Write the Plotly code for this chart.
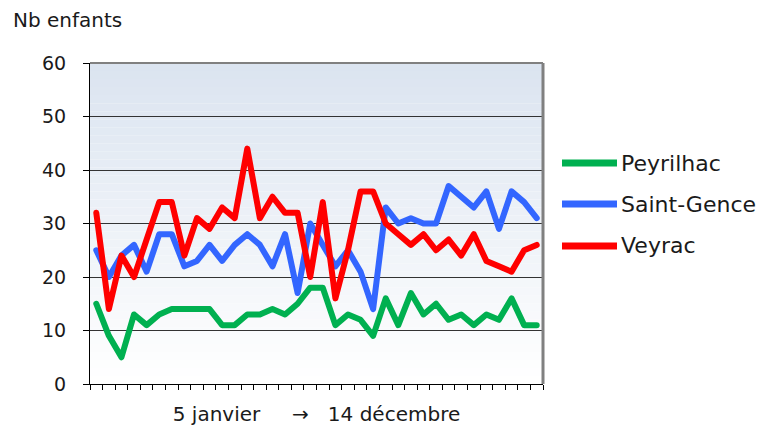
import plotly.graph_objects as go

# Data: one value per week, 5 janvier -> 14 décembre
peyrilhac = [15, 9, 5, 13, 11, 13, 14, 14, 14, 14, 11, 11, 13, 13, 14, 13, 15, 18,
             18, 11, 13, 12, 9, 16, 11, 17, 13, 15, 12, 13, 11, 13, 12, 16, 11, 11]
saint_gence = [25, 20, 24, 26, 21, 28, 28, 22, 23, 26, 23, 26, 28, 26, 22, 28, 17, 30,
               26, 22, 25, 21, 14, 33, 30, 31, 30, 30, 37, 35, 33, 36, 29, 36, 34, 31]
veyrac = [32, 14, 24, 20, 27, 34, 34, 24, 31, 29, 33, 31, 44, 31, 35, 32, 32, 20,
          34, 16, 25, 36, 36, 30, 28, 26, 28, 25, 27, 24, 28, 23, 22, 21, 25, 26]

series_names = ["Peyrilhac", "Saint-Gence", "Veyrac"]
series_values = [peyrilhac, saint_gence, veyrac]
series_colors = ["#00b050", "#3366ff", "#ff0000"]
y_ticks = [0, 10, 20, 30, 40, 50, 60]
x_title = "5 janvier     \u2192   14 décembre"
y_title = "Nb enfants"

FONT = "DejaVu Sans"
TXT = "#1a1a1a"
W, H = 778, 430
ML, MR, MT, MB = 90, 235, 63, 46
PW, PH = W - ML - MR, H - MT - MB

def px_x(p):
    return (p - ML) / PW

def px_y(p):
    return (H - MB - p) / PH

n = len(peyrilhac)
x = list(range(n))

fig = go.Figure()
for name, vals, col in zip(series_names, series_values, series_colors):
    fig.add_trace(go.Scatter(x=x, y=vals, mode="lines", name=name,
                             line=dict(color=col, width=6),
                             showlegend=False, hoverinfo="skip"))

shapes = []
# gradient background of the plot area
top = (219, 228, 240)
bot = (255, 255, 255)
steps = 40
for i in range(steps):
    t = i / (steps - 1)
    c = tuple(round(top[k] + (bot[k] - top[k]) * t) for k in range(3))
    shapes.append(dict(type="rect", xref="paper", yref="paper",
                       x0=0, x1=1, y0=1 - (i + 1) / steps, y1=1 - i / steps,
                       fillcolor="rgb(%d,%d,%d)" % c, line=dict(width=0),
                       layer="below"))
# gray top and right border
shapes.append(dict(type="line", xref="paper", yref="paper", x0=0, x1=1, y0=1, y1=1,
                   line=dict(color="#808080", width=2), layer="above"))
shapes.append(dict(type="line", xref="paper", yref="paper", x0=1, x1=1, y0=0, y1=1,
                   line=dict(color="#808080", width=3), layer="above"))

annotations = [dict(text=y_title, xref="paper", yref="paper",
                    x=px_x(11), y=px_y(20), xanchor="left", yanchor="middle",
                    showarrow=False, font=dict(family=FONT, size=20, color=TXT))]

# legend drawn at the right
leg_y = [163, 204, 246]
for name, col, yy in zip(series_names, series_colors, leg_y):
    shapes.append(dict(type="line", xref="paper", yref="paper",
                       x0=px_x(562), x1=px_x(617), y0=px_y(yy), y1=px_y(yy),
                       line=dict(color=col, width=7), layer="above"))
    annotations.append(dict(text=name, xref="paper", yref="paper",
                            x=px_x(619), y=px_y(yy), xanchor="left", yanchor="middle",
                            showarrow=False,
                            font=dict(family=FONT, size=22, color=TXT)))

fig.update_layout(
    width=W, height=H,
    margin=dict(l=ML, r=MR, t=MT, b=MB, pad=0),
    paper_bgcolor="white", plot_bgcolor="white",
    showlegend=False,
    shapes=shapes, annotations=annotations,
    font=dict(family=FONT, size=19, color=TXT),
    xaxis=dict(range=[-0.5, n - 0.5], tickmode="array",
               tickvals=[i - 0.5 for i in range(n + 1)],
               ticktext=["" for _ in range(n + 1)],
               ticks="outside", ticklen=5, tickcolor="black", tickwidth=1,
               showline=True, linecolor="black", linewidth=1,
               showgrid=False, zeroline=False, fixedrange=True,
               title=dict(text=x_title, standoff=14,
                          font=dict(family=FONT, size=20, color=TXT))),
    yaxis=dict(range=[0, 60], tickmode="array", tickvals=y_ticks,
               ticks="outside", ticklen=6, tickcolor="black", tickwidth=1,
               ticklabelstandoff=13,
               showline=True, linecolor="black", linewidth=1,
               showgrid=True, gridcolor="#333333", gridwidth=1,
               zeroline=False, fixedrange=True,
               tickfont=dict(family=FONT, size=19, color=TXT)),
)

post = """
document.body.style.margin = '0';
document.body.style.overflow = 'hidden';
document.querySelectorAll('path.js-line').forEach(function(p){
  p.style.strokeLinejoin = 'round';
  p.style.strokeLinecap = 'round';
});
"""

fig.write_html("out.html", config={"displayModeBar": False}, post_script=post)
